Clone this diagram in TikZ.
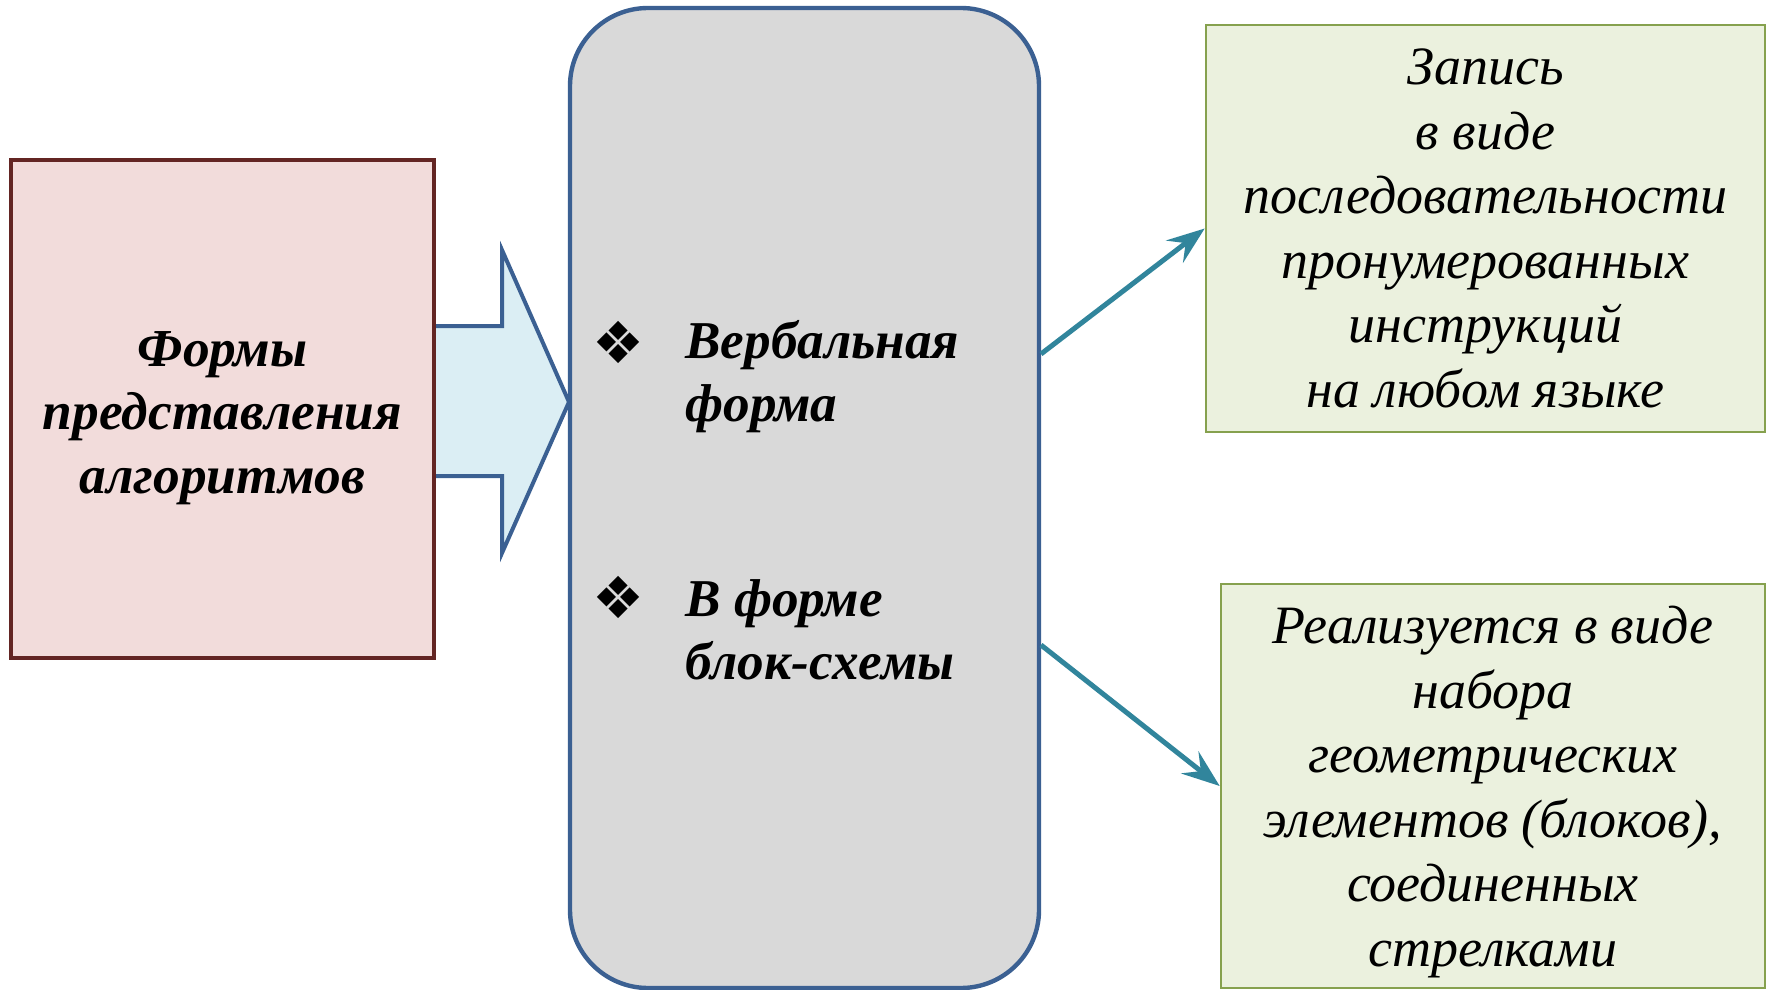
\documentclass[tikz,border=0pt]{standalone}
\usepackage{fontspec}
\setmainfont{Liberation Serif}
\newfontfamily\symfont{DejaVu Sans}
\usetikzlibrary{arrows.meta}
\definecolor{pinkfill}{HTML}{F2DCDB}
\definecolor{pinkline}{HTML}{632523}
\definecolor{arrowfill}{HTML}{DBEEF4}
\definecolor{blueline}{HTML}{3B6092}
\definecolor{greyfill}{HTML}{D9D9D9}
\definecolor{greenfill}{HTML}{EBF1DE}
\definecolor{greenline}{HTML}{86A14E}
\definecolor{tealline}{HTML}{31859C}
\tikzset{
  pinkbox/.style={draw=pinkline, fill=pinkfill, line width=2.1pt, inner sep=0pt},
  mainbox/.style={draw=blueline, fill=greyfill, line width=2.2pt, rounded corners=39pt, inner sep=0pt},
  greenbox/.style={draw=greenline, fill=greenfill, line width=1.3pt, inner sep=0pt},
  boldtext/.style={font=\fontsize{26.7}{31.75}\selectfont\bfseries\itshape, align=center},
  itext/.style={font=\fontsize{27}{32.25}\selectfont\itshape, align=center},
  bullettext/.style={font=\fontsize{26.6}{31.5}\selectfont\bfseries\itshape, align=left, anchor=west, inner sep=0pt},
  bulletmark/.style={font=\symfont\fontsize{29}{29}\selectfont, inner sep=0pt},
  tealarrow/.style={draw=tealline, line width=2.5pt, -{Stealth[length=19pt, width=14pt, inset=7pt]}},
  blockarrow/.style={draw=blueline, fill=arrowfill, line width=2pt, line join=miter}
}
\begin{document}
\begin{tikzpicture}[x=0.5pt, y=-0.5pt]
\useasboundingbox (0,0) rectangle (1774,990);
% block arrow
\draw[blockarrow] (434,326) -- (502,326) -- (502,250) -- (569,402) -- (502,553) -- (502,476) -- (434,476);
% boxes
\node[pinkbox, minimum width=211.5pt, minimum height=249pt] (pink) at (222.5,409) {};
\node[boldtext] (pinktext) at (222.5,418) {Формы\\представления\\алгоритмов};
\node[mainbox, minimum width=234.5pt, minimum height=490pt] (main) at (804.5,498) {};
\node[greenbox, minimum width=279.5pt, minimum height=203.5pt] (g1) at (1485.5,228.5) {};
\node[itext] (g1text) at (g1.center) {Запись\\в виде\\последовательности\\пронумерованных\\инструкций\\на любом языке};
\node[greenbox, minimum width=272pt, minimum height=202pt] (g2) at (1493,786) {};
\node[itext] (g2text) at (1493,792) {Реализуется в виде\\набора\\геометрических\\элементов (блоков),\\соединенных\\стрелками};
% bullets
\node[bulletmark] (b1) at (618,342) {❖};
\node[bullettext] (t1) at (685,377) {Вербальная\\форма};
\node[bulletmark] (b2) at (618,597) {❖};
\node[bullettext] (t2) at (685,630) {В форме\\блок-схемы};
% connectors
\coordinate (s1) at (1041,354);
\coordinate (s2) at (1041,645);
\draw[tealarrow] (s1) -- (g1.west);
\draw[tealarrow] (s2) -- (g2.west);
\end{tikzpicture}
\end{document}
